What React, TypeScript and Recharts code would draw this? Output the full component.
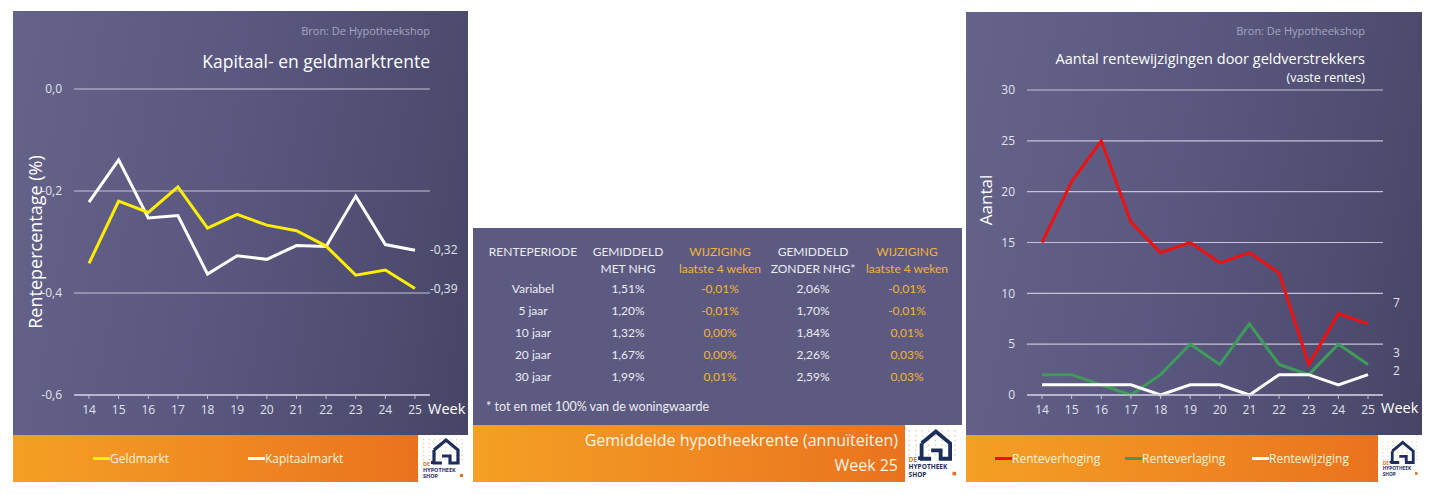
import React from 'react';
import { LineChart, Line, XAxis, YAxis, CartesianGrid } from 'recharts';

const weeks = ['14', '15', '16', '17', '18', '19', '20', '21', '22', '23', '24', '25'];
const geldmarkt = [-0.342, -0.22, -0.242, -0.192, -0.273, -0.246, -0.267, -0.278, -0.308, -0.365, -0.355, -0.391];
const kapitaalmarkt = [-0.222, -0.139, -0.253, -0.248, -0.363, -0.327, -0.334, -0.307, -0.309, -0.21, -0.305, -0.316];
const renteTicks = [-0.6, -0.4, -0.2, 0];

const renteverhoging = [15, 21, 25, 17, 14, 15, 13, 14, 12, 3, 8, 7];
const renteverlaging = [2, 2, 1, 0, 2, 5, 3, 7, 3, 2, 5, 3];
const rentewijziging = [1, 1, 1, 1, 0, 1, 1, 0, 2, 2, 1, 2];
const aantalTicks = [0, 5, 10, 15, 20, 25, 30];

const tableHeader1 = ['RENTEPERIODE', 'GEMIDDELD', 'WIJZIGING', 'GEMIDDELD', 'WIJZIGING'];
const tableHeader2 = ['', 'MET NHG', 'laatste 4 weken', 'ZONDER NHG*', 'laatste 4 weken'];
const periods = ['Variabel', '5 jaar', '10 jaar', '20 jaar', '30 jaar'];
const metNhg = ['1,51%', '1,20%', '1,32%', '1,67%', '1,99%'];
const wijzigingMet = ['-0,01%', '-0,01%', '0,00%', '0,00%', '0,01%'];
const zonderNhg = ['2,06%', '1,70%', '1,84%', '2,26%', '2,59%'];
const wijzigingZonder = ['-0,01%', '-0,01%', '0,01%', '0,03%', '0,03%'];

const renteData = weeks.map((w, i) => ({ week: w, Geldmarkt: geldmarkt[i], Kapitaalmarkt: kapitaalmarkt[i] }));
const aantalData = weeks.map((w, i) => ({
  week: w,
  Renteverhoging: renteverhoging[i],
  Renteverlaging: renteverlaging[i],
  Rentewijziging: rentewijziging[i],
}));

const FONT = '"Open Sans", "DejaVu Sans", sans-serif';
const TFONT = 'Lato, "Open Sans", sans-serif';
const DARK_BG = 'linear-gradient(100deg, #66638a 0%, #5a5880 45%, #474566 100%)';
const ORANGE_BG = 'linear-gradient(90deg, #f4a024 0%, #f08a22 50%, #ea721e 100%)';
const GRID = '#c4c3d6';
const TICK = '#e2e2ec';

const makeEndLabel = (count: number, dx: number, dy: number, fmt: (v: number) => string) => (props: any) => {
  const { x, y, value, index } = props;
  if (index !== count - 1) return null;
  return (
    <text x={x + dx} y={y + dy} fill={TICK} fontSize={12} fontFamily={FONT} dominantBaseline="middle">
      {fmt(value)}
    </text>
  );
};

const comma = (d: number) => (v: number) => v.toFixed(d).replace('.', ',');

const Logo = ({ left, top, width, height }: { left: number; top: number; width: number; height: number }) => (
  <div style={{ position: 'absolute', left, top, width, height, background: '#ffffff' }}>
    <svg width={width} height={height} viewBox="0 0 48 46">
      {Array.from({ length: 6 }).map((_, r) =>
        Array.from({ length: 8 }).map((__, c) => (
          <rect key={`${r}-${c}`} x={3 + c * 5.5} y={3 + r * 4} width={1.2} height={1.2} fill={(r + c) % 3 === 0 ? '#c8cce0' : '#f6c9a0'} />
        ))
      )}
      <path d="M14 14 L26 4 L38 14 L38 27 L30 27 L30 20 L22 20" fill="none" stroke="#1d2d5c" strokeWidth={3.2} />
      <path d="M14 14 L14 27 L22 27" fill="none" stroke="#1d2d5c" strokeWidth={3.2} />
      <rect x={11} y={25} width={3} height={3} fill="#1d2d5c" />
      <text x={3} y={30} fontSize={5.5} fontWeight={700} fill="#e8701e" fontFamily={FONT}>DE</text>
      <text x={3} y={36} fontSize={5.5} fontWeight={700} fill="#1d2d5c" fontFamily={FONT}>HYPOTHEEK</text>
      <text x={3} y={42} fontSize={5.5} fontWeight={700} fill="#1d2d5c" fontFamily={FONT}>SHOP</text>
      <rect x={40} y={38} width={3} height={3} fill="#e8701e" />
    </svg>
  </div>
);

const LegendItem = ({ left, color, label }: { left: number; color: string; label: string }) => (
  <div style={{ position: 'absolute', left, top: 0, height: 47, display: 'flex', alignItems: 'center' }}>
    <div style={{ width: 17, height: 3, background: color }} />
    <span style={{ color: '#fff4d8', fontSize: 12, fontFamily: FONT }}>{label}</span>
  </div>
);

const LeftPanel = () => {
  const n = weeks.length;
  return (
    <div style={{ position: 'absolute', left: 13, top: 11, width: 455, height: 471 }}>
      <div style={{ position: 'absolute', left: 0, top: 0, width: 455, height: 424, background: DARK_BG }} />
      <div style={{ position: 'absolute', right: 38, top: 12, color: '#a6a4bf', fontSize: 11, fontFamily: FONT }}>Bron: De Hypotheekshop</div>
      <div style={{ position: 'absolute', right: 38, top: 38, color: '#ffffff', fontSize: 17.5, fontFamily: FONT, whiteSpace: 'nowrap' }}>
        Kapitaal- en geldmarktrente
      </div>
      <div
        style={{
          position: 'absolute', left: 22, top: 231, color: '#ffffff', fontSize: 18, fontFamily: FONT,
          transform: 'translate(-50%, -50%) rotate(-90deg)', whiteSpace: 'nowrap',
        }}
      >
        Rentepercentage (%)
      </div>
      <div style={{ position: 'absolute', left: 415, top: 388, color: '#ffffff', fontSize: 14.5, fontFamily: FONT }}>Week</div>
      <div style={{ position: 'absolute', left: 0, top: 0 }}>
        <LineChart width={455} height={424} data={renteData} margin={{ top: 78, right: 38, left: 0, bottom: 0 }}>
          <CartesianGrid vertical={false} stroke={GRID} strokeWidth={1.2} />
          <XAxis
            dataKey="week"
            padding={{ left: 15, right: 15 }}
            height={40}
            axisLine={{ stroke: GRID, strokeWidth: 1.5 }}
            tickLine={{ stroke: GRID }}
            tickSize={4}
            tickMargin={6}
            tick={{ fill: TICK, fontSize: 12, fontFamily: FONT }}
            interval={0}
          />
          <YAxis
            domain={[-0.6, 0]}
            ticks={renteTicks}
            width={61}
            axisLine={false}
            tickLine={false}
            tickMargin={6}
            tickFormatter={comma(1)}
            tick={{ fill: TICK, fontSize: 12, fontFamily: FONT }}
          />
          <Line
            dataKey="Kapitaalmarkt"
            stroke="#ffffff"
            strokeWidth={3}
            dot={false}
            isAnimationActive={false}
            label={makeEndLabel(n, 15, 1, comma(2))}
          />
          <Line
            dataKey="Geldmarkt"
            stroke="#ffee00"
            strokeWidth={3}
            dot={false}
            isAnimationActive={false}
            label={makeEndLabel(n, 15, 1, comma(2))}
          />
        </LineChart>
      </div>
      <div style={{ position: 'absolute', left: 0, top: 424, width: 405, height: 47, background: ORANGE_BG }}>
        <LegendItem left={80} color="#ffee00" label="Geldmarkt" />
        <LegendItem left={235} color="#ffffff" label="Kapitaalmarkt" />
      </div>
      <Logo left={407} top={425} width={48} height={46} />
    </div>
  );
};

const colCenters = [60, 155, 247, 340, 434];
const colColors = ['#ecebf3', '#ecebf3', '#f3b23a', '#ecebf3', '#f3b23a'];

const MiddlePanel = () => {
  const rows = periods.map((p, i) => [p, metNhg[i], wijzigingMet[i], zonderNhg[i], wijzigingZonder[i]]);
  const cell = (txt: string, ci: number, y: number, key: string) => (
    <div
      key={key}
      style={{
        position: 'absolute', left: colCenters[ci], top: y, transform: 'translate(-50%, -50%)',
        color: colColors[ci], fontSize: 12, fontFamily: TFONT, whiteSpace: 'nowrap',
      }}
    >
      {txt}
    </div>
  );
  return (
    <div style={{ position: 'absolute', left: 473, top: 228, width: 489, height: 254 }}>
      <div style={{ position: 'absolute', left: 0, top: 0, width: 489, height: 197, background: '#5c5a80' }} />
      {tableHeader1.map((t, ci) => cell(t, ci, 23, `h1-${ci}`))}
      {tableHeader2.map((t, ci) => cell(t, ci, 40, `h2-${ci}`))}
      {rows.map((r, ri) => r.map((t, ci) => cell(t, ci, 60 + ri * 22, `r${ri}-${ci}`)))}
      <div style={{ position: 'absolute', left: 13, top: 171, color: '#ecebf3', fontSize: 12.5, fontFamily: TFONT }}>
        * tot en met 100% van de woningwaarde
      </div>
      <div style={{ position: 'absolute', left: 0, top: 197, width: 432, height: 57, background: ORANGE_BG }}>
        <div style={{ position: 'absolute', right: 7, top: 4, color: '#fff6e6', fontSize: 16, fontFamily: FONT, whiteSpace: 'nowrap' }}>
          Gemiddelde hypotheekrente (annuïteiten)
        </div>
        <div style={{ position: 'absolute', right: 7, top: 29, color: '#fff6e6', fontSize: 16, fontFamily: FONT }}>Week 25</div>
      </div>
      <Logo left={432} top={198} width={57} height={56} />
    </div>
  );
};

const RightPanel = () => {
  const n = weeks.length;
  return (
    <div style={{ position: 'absolute', left: 966, top: 12, width: 456, height: 470 }}>
      <div style={{ position: 'absolute', left: 0, top: 0, width: 456, height: 423, background: DARK_BG }} />
      <div style={{ position: 'absolute', right: 57, top: 11, color: '#a6a4bf', fontSize: 11, fontFamily: FONT }}>Bron: De Hypotheekshop</div>
      <div style={{ position: 'absolute', right: 57, top: 37, color: '#ffffff', fontSize: 14.5, fontFamily: FONT, whiteSpace: 'nowrap' }}>
        Aantal rentewijzigingen door geldverstrekkers
      </div>
      <div style={{ position: 'absolute', right: 57, top: 57, color: '#ffffff', fontSize: 12.5, fontFamily: FONT }}>(vaste rentes)</div>
      <div
        style={{
          position: 'absolute', left: 19, top: 188, color: '#ffffff', fontSize: 17, fontFamily: FONT,
          transform: 'translate(-50%, -50%) rotate(-90deg)', whiteSpace: 'nowrap',
        }}
      >
        Aantal
      </div>
      <div style={{ position: 'absolute', left: 415, top: 386, color: '#ffffff', fontSize: 14.5, fontFamily: FONT }}>Week</div>
      <div style={{ position: 'absolute', left: 0, top: 0 }}>
        <LineChart width={456} height={423} data={aantalData} margin={{ top: 78, right: 39, left: 0, bottom: 0 }}>
          <CartesianGrid vertical={false} stroke={GRID} strokeWidth={1.2} />
          <XAxis
            dataKey="week"
            padding={{ left: 15, right: 15 }}
            height={40}
            axisLine={{ stroke: GRID, strokeWidth: 1.5 }}
            tickLine={{ stroke: GRID }}
            tickSize={4}
            tickMargin={6}
            tick={{ fill: TICK, fontSize: 12, fontFamily: FONT }}
            interval={0}
          />
          <YAxis
            domain={[0, 30]}
            ticks={aantalTicks}
            width={61}
            axisLine={false}
            tickLine={false}
            tickMargin={6}
            tick={{ fill: TICK, fontSize: 12, fontFamily: FONT }}
          />
          <Line
            dataKey="Renteverhoging"
            stroke="#ee1111"
            strokeWidth={3}
            dot={false}
            isAnimationActive={false}
            label={makeEndLabel(n, 25, -20, (v) => String(v))}
          />
          <Line
            dataKey="Renteverlaging"
            stroke="#3f9b5a"
            strokeWidth={3}
            dot={false}
            isAnimationActive={false}
            label={makeEndLabel(n, 25, -11, (v) => String(v))}
          />
          <Line
            dataKey="Rentewijziging"
            stroke="#ffffff"
            strokeWidth={3}
            dot={false}
            isAnimationActive={false}
            label={makeEndLabel(n, 25, -3, (v) => String(v))}
          />
        </LineChart>
      </div>
      <div style={{ position: 'absolute', left: 0, top: 423, width: 412, height: 47, background: ORANGE_BG }}>
        <LegendItem left={29} color="#ee1111" label="Renteverhoging" />
        <LegendItem left={159} color="#3f9b5a" label="Renteverlaging" />
        <LegendItem left={286} color="#ffffff" label="Rentewijziging" />
      </div>
      <Logo left={414} top={424} width={42} height={46} />
    </div>
  );
};

export default function App() {
  return (
    <div style={{ position: 'absolute', left: 0, top: 0, width: 1440, height: 495, background: '#ffffff', overflow: 'hidden' }}>
      <LeftPanel />
      <MiddlePanel />
      <RightPanel />
    </div>
  );
}
